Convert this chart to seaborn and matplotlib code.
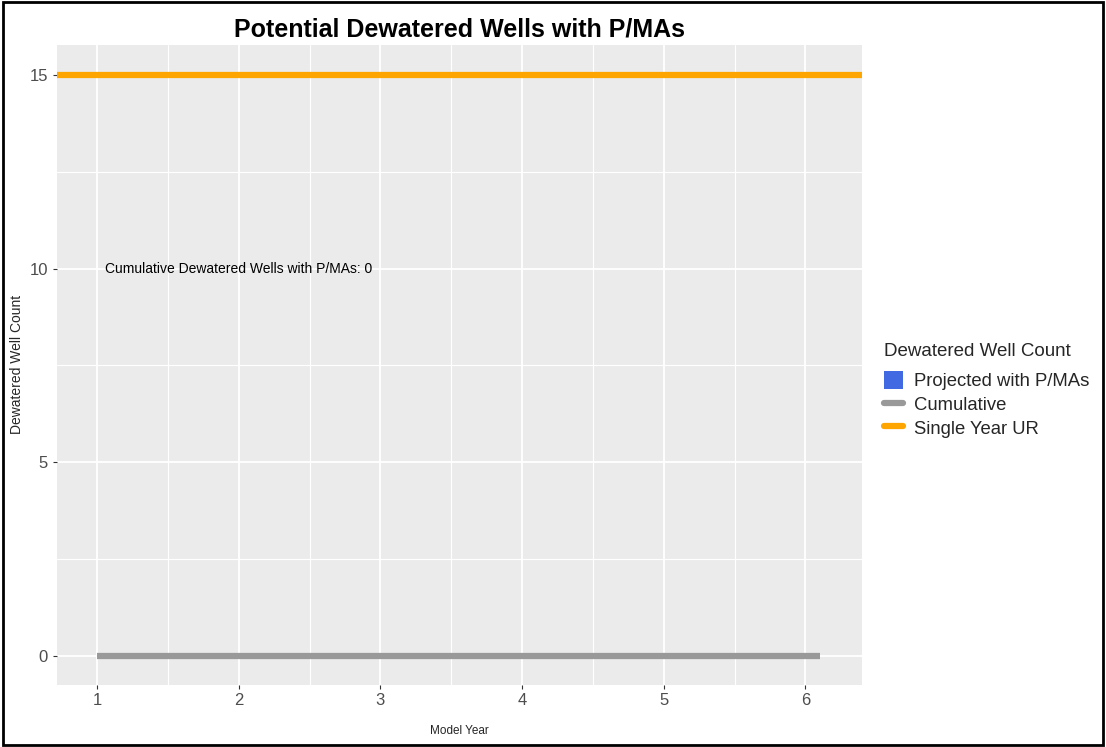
import numpy as np
import pandas as pd
import matplotlib.pyplot as plt
import seaborn as sns
from matplotlib.patches import Patch, Rectangle
from matplotlib.lines import Line2D

# Chart data
model_years = [1, 2, 3, 4, 5, 6]
cumulative_x = [1, 2, 3, 4, 5, 6.1]
cumulative_count = [0, 0, 0, 0, 0, 0]
single_year_ur = 15
cumulative_total = 0
y_ticks = [0, 5, 10, 15]

legend_labels = ["Projected with P/MAs", "Cumulative", "Single Year UR"]
legend_colors = ["#4169E1", "#999999", "#FFA500"]

sns.set_style("darkgrid", {"axes.facecolor": "#EBEBEB", "grid.color": "white"})
plt.rcParams['font.family'] = ['Liberation Sans', 'DejaVu Sans']

fig = plt.figure(figsize=(11.06, 7.47), dpi=100)
ax = fig.add_axes([0.0515, 0.083, 0.728, 0.857])

cum_df = pd.DataFrame({"year": cumulative_x, "count": cumulative_count})
sns.lineplot(data=cum_df, x="year", y="count", ax=ax, color=legend_colors[1],
             linewidth=4.5, solid_capstyle="butt")
ax.axhline(single_year_ur, color=legend_colors[2], linewidth=4.5, zorder=3)

ax.text(2, 10, f"Cumulative Dewatered Wells with P/MAs: {cumulative_total}",
        ha="center", va="center", fontsize=10, color="black")

ax.set_xlim(0.717, 6.40)
ax.set_ylim(-0.75, 15.78)
ax.set_xticks(model_years)
ax.set_xticks([1.5, 2.5, 3.5, 4.5, 5.5], minor=True)
ax.set_yticks(y_ticks)
ax.set_yticks([2.5, 7.5, 12.5], minor=True)
ax.grid(which="major", color="white", linewidth=1.3)
ax.grid(which="minor", color="white", linewidth=0.8)
ax.tick_params(axis="both", which="major", length=3, color="#333333",
               labelcolor="#4D4D4D", labelsize=12, bottom=True, left=True)
ax.tick_params(axis="x", pad=3)
ax.tick_params(which="minor", length=0)
for s in ax.spines.values():
    s.set_visible(False)

ax.set_xlabel("Model Year", fontsize=8.5, labelpad=12)
ax.set_ylabel("Dewatered Well Count", fontsize=10, labelpad=4)
ax.set_title("Potential Dewatered Wells with P/MAs", fontsize=18,
             fontweight="bold", color="black", pad=6)

handles = [
    Patch(facecolor=legend_colors[0], edgecolor="none"),
    Line2D([0], [0], color=legend_colors[1], linewidth=4.5),
    Line2D([0], [0], color=legend_colors[2], linewidth=4.5),
]
leg = fig.legend(handles, legend_labels, title="Dewatered Well Count",
                 loc="upper left", bbox_to_anchor=(0.788, 0.558),
                 frameon=False, fontsize=13.3, title_fontsize=13.5,
                 handlelength=1.0, handleheight=1.1, handletextpad=0.6,
                 labelspacing=0.25, borderpad=0.2)
leg._legend_box.align = "left"
leg._legend_box.sep = 8

fig.patches.append(Rectangle((0.003, 0.003), 0.994, 0.994, transform=fig.transFigure,
                             fill=False, edgecolor="black", linewidth=2))

fig.savefig("out.png", dpi=100, facecolor="white")
